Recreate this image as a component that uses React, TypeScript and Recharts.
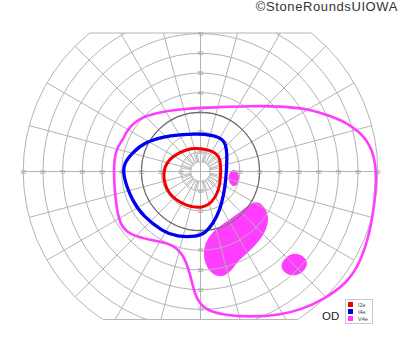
import React from 'react';
import {
  ScatterChart, Scatter, XAxis, YAxis, ReferenceLine, Legend,
  RadarChart, Radar, PolarGrid, PolarAngleAxis, PolarRadiusAxis,
} from 'recharts';

// ---------- layout constants ----------
const W = 400;
const H = 352;
const CX = 200.5;
const CY = 171.5;
const PX = 1.97; // pixels per degree
const X_DOMAIN: [number, number] = [-CX / PX, (W - CX) / PX];
const Y_DOMAIN: [number, number] = [-(H - CY) / PX, CY / PX];
const TOP_LIMIT = 70.3; // degrees where chart is cut flat at top
const BOTTOM_LIMIT = -75.1; // degrees where chart is cut flat at bottom
const OUTER = 90;
const INNER = 5;

// ---------- grid data ----------
const SPOKE_ANGLES = [0, 15, 30, 45, 60, 75, 90, 105, 120, 135, 150, 165, 180, 195, 210, 225, 240, 255, 270, 285, 300, 315, 330, 345];
const INNER_SPOKE_ANGLES = [0, 10, 20, 30, 40, 50, 60, 70, 80, 90, 100, 110, 120, 130, 140, 150, 160, 170, 180, 190, 200, 210, 220, 230, 240, 250, 260, 270, 280, 290, 300, 310, 320, 330, 340, 350];
const RING_TICKS = [5, 10, 20, 30, 40, 50, 60, 70, 80, 90];
const DARK_RING = [30];
const H_TICK_LABELS = [10, 20, 30, 40, 50, 60, 70, 80, 90];
const V_TICK_LABELS = [10, 20, 30, 40, 50, 60, 70];

// ---------- isopters (x, y in degrees) ----------
const I2E: [number, number][] = [
  [0, 12.0], [8.5, 9.6], [10.3, 5.2], [10.3, -2.6], [9.4, -9.6], [6.0, -15.8], [0.6, -18.8],
  [-7.2, -17.6], [-16.0, -12.2], [-18.9, -4.3], [-18.5, 2.6], [-14.2, 7.9], [-7.2, 11.4],
];
const I4E: [number, number][] = [
  [-28.2, 15.1], [-15.5, 18.5], [-0.3, 19.4], [9.9, 17.7], [12.9, 14.3], [13.6, 7.5], [12.9, -4.3],
  [11.9, -11.1], [9.9, -19.5], [6.5, -26.3], [2.3, -31.4], [-1.9, -33.1], [-12.1, -33.1], [-18.9, -30.6],
  [-29.0, -22.9], [-34.9, -14.5], [-39.5, -1.8], [-38.8, 4.2], [-34.9, 9.2],
];
const V4E: [number, number][] = [
  [-39.3, 16.0], [-37.3, 21.1], [-33.2, 25.1], [-29.2, 27.7], [-20.6, 30.2], [-6.9, 32.0], [9.9, 32.7],
  [25.1, 33.2], [40.4, 33.2], [55.6, 31.7], [65.7, 28.2], [73.4, 25.1], [79.4, 21.1], [86.0, 14.5],
  [89.6, 2.3], [88.6, -14.5], [86.0, -31.2], [81.0, -46.4], [74.4, -56.6], [62.2, -65.2], [50.5, -70.3],
  [40.4, -72.8], [25.1, -73.9], [11.4, -72.8], [2.3, -70.3], [-2.8, -63.7], [-5.3, -51.5], [-8.9, -41.4],
  [-15.5, -36.3], [-25.6, -34.8], [-35.8, -32.2], [-40.9, -27.2], [-42.9, -17.0], [-44.4, 0.8], [-42.9, 11.9],
];

// ---------- scotomas (V4e, filled) ----------
const SCOTOMA_A: [number, number][] = [
  [17.2, 0.8], [19.0, -0.3], [19.5, -3.8], [18.5, -6.9], [16.5, -7.6], [14.5, -5.3], [14.5, -1.8], [15.5, 0.3],
];
const SCOTOMA_B: [number, number][] = [
  [30.2, -15.3], [34.4, -21.2], [33.9, -28.0], [30.2, -34.8], [23.5, -41.5], [18.4, -45.8], [15.8, -50.0],
  [11.6, -53.4], [6.5, -52.5], [3.1, -48.3], [1.4, -41.5], [3.1, -34.8], [8.2, -28.8], [15.0, -24.6],
  [21.7, -19.5], [26.0, -16.1],
];
const SCOTOMA_C: [number, number][] = [
  [47.1, -41.2], [53.0, -43.2], [54.4, -47.5], [51.4, -51.7], [46.3, -53.0], [42.0, -50.9], [40.9, -47.5], [42.9, -44.1],
];

const RED = '#f00000';
const BLUE = '#0000f0';
const MAGENTA = '#ff3cff';
const GRID = '#b4b4b4';
const FONT = '"Liberation Sans", Arial, Helvetica, sans-serif';

const toPts = (arr: [number, number][]) => arr.map(([x, y]) => ({ x, y }));

const labelPoints = [
  ...H_TICK_LABELS.map((v) => ({ x: -v, y: 0, t: String(v) })),
  ...H_TICK_LABELS.map((v) => ({ x: v, y: 0, t: String(v) })),
  ...V_TICK_LABELS.map((v) => ({ x: 0, y: v, t: String(v) })),
  ...V_TICK_LABELS.map((v) => ({ x: 0, y: -v, t: String(v) })),
];

const spokeData = SPOKE_ANGLES.map((a) => ({ a: String(a), r: INNER }));
const innerSpokeData = INNER_SPOKE_ANGLES.map((a) => ({ a: String(a), r: INNER }));

const Empty = () => <g />;
const LabelShape = (props: any) => (
  <text
    x={props.cx}
    y={props.cy}
    textAnchor="middle"
    dominantBaseline="central"
    fontSize={5}
    fontFamily={FONT}
    fill="#9a9a9a"
  >
    {props.payload.t}
  </text>
);

const topHalf = Math.sqrt(OUTER * OUTER - TOP_LIMIT * TOP_LIMIT);
const bottomHalf = Math.sqrt(OUTER * OUTER - BOTTOM_LIMIT * BOTTOM_LIMIT);
const clipTop = CY - TOP_LIMIT * PX;
const clipBottom = CY - BOTTOM_LIMIT * PX;
const ringRadii = RING_TICKS.map((r) => r * PX);
const darkRadii = DARK_RING.map((r) => r * PX);

const M0 = { top: 0, right: 0, bottom: 0, left: 0 };

const LegendBox = (props: any) => {
  const items = (props.payload || []).filter((p: any) => p.type !== 'none');
  return (
    <div
      style={{
        border: '1px solid #c8c8c8',
        background: '#fff',
        padding: '1px 2px',
        width: 22,
        fontFamily: FONT,
        fontSize: 5.5,
        color: '#444',
      }}
    >
      {items.map((p: any) => (
        <div key={p.value} style={{ display: 'flex', alignItems: 'center', height: 7 }}>
          <span style={{ width: 5, height: 5, background: p.color, display: 'inline-block', marginRight: 5 }} />
          <span>{p.value}</span>
        </div>
      ))}
    </div>
  );
};

export default function App() {
  return (
    <div style={{ position: 'absolute', left: 0, top: 0, width: W, height: H, background: '#fff', overflow: 'hidden' }}>
      {/* bottom layer: scotomas and frame lines */}
      <div style={{ position: 'absolute', left: 0, top: 0 }}>
        <ScatterChart width={W} height={H} margin={M0}>
          <XAxis type="number" dataKey="x" domain={X_DOMAIN} hide allowDataOverflow />
          <YAxis type="number" dataKey="y" domain={Y_DOMAIN} hide allowDataOverflow />
          <ReferenceLine segment={[{ x: -topHalf, y: TOP_LIMIT }, { x: topHalf, y: TOP_LIMIT }]} stroke={GRID} strokeWidth={1} />
          <ReferenceLine segment={[{ x: -bottomHalf, y: BOTTOM_LIMIT }, { x: bottomHalf, y: BOTTOM_LIMIT }]} stroke={GRID} strokeWidth={1} />
          <ReferenceLine segment={[{ x: -INNER, y: 0 }, { x: INNER, y: 0 }]} stroke={GRID} strokeWidth={1} />
          <ReferenceLine segment={[{ x: 0, y: -INNER }, { x: 0, y: INNER }]} stroke={GRID} strokeWidth={1} />
          {[SCOTOMA_A, SCOTOMA_B, SCOTOMA_C].map((s, i) => (
            <Scatter
              key={i}
              name={`scotoma${i}`}
              data={toPts(s)}
              fill={MAGENTA}
              line={{ fill: MAGENTA, stroke: MAGENTA, strokeWidth: 1 }}
              lineType="joint"
              lineJointType="basisClosed"
              shape={Empty}
              legendType="none"
              isAnimationActive={false}
            />
          ))}
        </ScatterChart>
      </div>

      {/* grid layer (clipped top and bottom) */}
      <div style={{ position: 'absolute', left: 0, top: clipTop, width: W, height: clipBottom - clipTop, overflow: 'hidden' }}>
        <div style={{ position: 'absolute', left: 0, top: -clipTop }}>
          <RadarChart width={W} height={H} cx={CX} cy={CY} innerRadius={INNER * PX} outerRadius={OUTER * PX} data={spokeData} margin={M0}>
            <PolarGrid gridType="circle" polarRadius={ringRadii} stroke={GRID} strokeWidth={1} />
            <PolarGrid gridType="circle" polarRadius={darkRadii} radialLines={false} stroke="#6a6a6a" strokeWidth={1.1} />
            <PolarAngleAxis dataKey="a" tick={false} axisLine={false} />
            <PolarRadiusAxis type="number" domain={[INNER, OUTER]} tick={false} axisLine={false} />
            <Radar dataKey="r" stroke="none" fill="none" isAnimationActive={false} />
          </RadarChart>
        </div>
      </div>

      {/* dense inner spokes */}
      <div style={{ position: 'absolute', left: 0, top: 0 }}>
        <RadarChart width={W} height={H} cx={CX} cy={CY} innerRadius={INNER * PX} outerRadius={10 * PX} data={innerSpokeData} margin={M0}>
          <PolarGrid gridType="circle" polarRadius={[]} stroke={GRID} strokeWidth={0.8} />
          <PolarAngleAxis dataKey="a" tick={false} axisLine={false} />
          <PolarRadiusAxis type="number" domain={[INNER, 10]} tick={false} axisLine={false} />
          <Radar dataKey="r" stroke="none" fill="none" isAnimationActive={false} />
        </RadarChart>
      </div>

      {/* top layer: isopters, labels, legend */}
      <div style={{ position: 'absolute', left: 0, top: 0 }}>
        <ScatterChart width={W} height={H} margin={M0}>
          <XAxis type="number" dataKey="x" domain={X_DOMAIN} hide allowDataOverflow />
          <YAxis type="number" dataKey="y" domain={Y_DOMAIN} hide allowDataOverflow />
          <Scatter name="labels" data={labelPoints} shape={LabelShape} legendType="none" isAnimationActive={false} />
          <Scatter
            name="I2e"
            data={toPts(I2E)}
            fill={RED}
            line={{ stroke: RED, strokeWidth: 3 }}
            lineType="joint"
            lineJointType="basisClosed"
            shape={Empty}
            isAnimationActive={false}
          />
          <Scatter
            name="I4e"
            data={toPts(I4E)}
            fill={BLUE}
            line={{ stroke: BLUE, strokeWidth: 3.3 }}
            lineType="joint"
            lineJointType="basisClosed"
            shape={Empty}
            isAnimationActive={false}
          />
          <Scatter
            name="V4e"
            data={toPts(V4E)}
            fill={MAGENTA}
            line={{ stroke: MAGENTA, strokeWidth: 2.6 }}
            lineType="joint"
            lineJointType="basisClosed"
            shape={Empty}
            isAnimationActive={false}
          />
          <Legend
            content={LegendBox}
            layout="vertical"
            align="center"
            verticalAlign="middle"
            wrapperStyle={{ left: 345, top: 299, width: 28 }}
          />
        </ScatterChart>
      </div>

      <div
        style={{
          position: 'absolute', right: 2, top: 0, fontSize: 13, lineHeight: '14px', letterSpacing: '0.6px',
          fontFamily: FONT, color: '#333', whiteSpace: 'nowrap',
        }}
      >
        ©StoneRoundsUIOWA
      </div>
      <div
        style={{
          position: 'absolute', left: 322, top: 311, fontSize: 11.5, lineHeight: '11.5px',
          fontFamily: FONT, color: '#222',
        }}
      >
        OD
      </div>
    </div>
  );
}
